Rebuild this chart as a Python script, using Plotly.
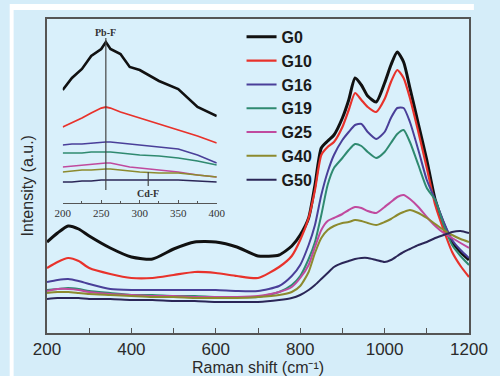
import plotly.graph_objects as go

# Raman shift grid (cm^-1) for the main spectra
shift = [200, 225, 250, 275, 300, 350, 400, 450, 500, 550, 600, 650, 700, 750, 780,
         800, 820, 835, 850, 865, 880, 900, 915, 930, 945, 960, 980, 1000, 1015,
         1030, 1045, 1060, 1080, 1100, 1120, 1140, 1160, 1180, 1200]

g0 = [91, 100, 107, 104, 97, 85, 76, 74, 84, 91, 91, 86, 77, 78, 87, 98, 115, 148, 185,
      192, 198, 215, 233, 255, 248, 237, 231, 250, 268, 281, 271, 245, 209, 173, 133,
      109, 91, 81, 73]
g10 = [65, 71, 75, 72, 65, 59, 55, 55, 58, 61, 60, 57, 55, 66, 77, 93, 115, 143, 178,
       186, 191, 206, 223, 240, 233, 226, 221, 234, 251, 263, 255, 235, 201, 165, 128,
       103, 81, 67, 56]
g16 = [51, 53, 54, 52, 49, 44, 43, 43, 43, 43, 43, 42, 42, 47, 57, 68, 88, 108, 138,
       161, 178, 193, 201, 208, 209, 201, 194, 201, 215, 225, 225, 211, 183, 153, 133,
       111, 93, 83, 75]
g19 = [43, 44, 45, 44, 42, 40, 38, 38, 37, 37, 36, 36, 36, 41, 48, 57, 74, 91, 118,
       148, 165, 175, 183, 189, 187, 181, 175, 181, 190, 199, 203, 191, 168, 145, 133,
       108, 88, 77, 68]
g25 = [42, 44, 44, 43, 41, 39, 38, 37, 37, 36, 36, 36, 37, 41, 46, 55, 68, 86, 103,
       112, 115, 119, 123, 126, 125, 122, 120, 126, 131, 136, 138, 134, 126, 116, 107,
       100, 95, 90, 85]
g40 = [40, 41, 41, 40, 39, 38, 37, 36, 36, 35, 35, 35, 36, 38, 41, 47, 61, 80, 95,
       103, 107, 110, 111, 113, 112, 110, 108, 111, 114, 118, 121, 123, 120, 115, 109,
       103, 98, 94, 91]
g50 = [34, 35, 35, 35, 34, 34, 33, 33, 32, 32, 31, 31, 31, 33, 35, 38, 43, 48, 54,
       60, 66, 70, 72, 74, 75, 75, 73, 71, 73, 77, 81, 84, 88, 91, 95, 98, 101, 102, 100]

# Low-frequency region (inset)
shift_low = [200, 212, 225, 237, 250, 256, 262, 275, 287, 300, 325, 350, 375, 400]
low_g0 = [113, 125, 134, 147, 154, 161, 154, 149, 136, 133, 122, 114, 96, 87]
low_g10 = [76, 80, 85, 90, 95, 96, 95, 91, 88, 85, 79, 73, 67, 60]
low_g16 = [58, 59, 59, 60, 61, 61, 61, 60, 59, 58, 56, 54, 48, 40]
low_g19 = [50, 50, 50, 51, 51, 51, 51, 50, 49, 48, 47, 45, 42, 38]
low_g25 = [36, 37, 38, 39, 40, 40, 40, 38, 36, 35, 33, 31, 28, 26]
low_g40 = [31, 32, 33, 33, 34, 34, 34, 33, 32, 31, 30, 30, 28, 26]
low_g50 = [21, 21, 22, 22, 23, 23, 23, 23, 23, 23, 23, 23, 22, 21]

names = ["G0", "G10", "G16", "G19", "G25", "G40", "G50"]
colors = ["#111111", "#e8322b", "#4a3f99", "#2f8a70", "#c04a9e", "#8c8a2e", "#2b2657"]
widths = [3.0, 2.2, 2.0, 2.0, 2.0, 2.0, 2.0]
main_series = [g0, g10, g16, g19, g25, g40, g50]
low_series = [low_g0, low_g10, low_g16, low_g19, low_g25, low_g40, low_g50]

pb_f = 256
cd_f = 311

SANS = "Arial, Liberation Sans, sans-serif"
SERIF = "Times New Roman, Liberation Serif, serif"

fig = go.Figure()
for name, col, w, ys in zip(names, colors, widths, main_series):
    fig.add_trace(go.Scatter(x=shift, y=ys, mode="lines", name=name,
                             legendgroup=name,
                             line=dict(color=col, width=w, shape="spline", smoothing=0.6)))
for name, col, w, ys in zip(names, colors, widths, low_series):
    fig.add_trace(go.Scatter(x=shift_low, y=ys, mode="lines", name=name,
                             showlegend=False, xaxis="x2", yaxis="y2",
                             line=dict(color=col, width=w - 0.4)))

fig.update_layout(
    width=500, height=376,
    margin=dict(l=47, r=23, t=19, b=43),
    paper_bgcolor="#d5edf9",
    plot_bgcolor="#d9f0fb",
    font=dict(family=SANS, color="#2a2a2a"),
    xaxis=dict(range=[200, 1200], dtick=200, ticks="inside", ticklen=5,
               tickcolor="#555", showline=True, linecolor="#555", linewidth=1.5,
               mirror=True, showgrid=False, zeroline=False,
               minor=dict(dtick=100, ticks="inside", ticklen=5, tickcolor="#555"),
               tickfont=dict(size=17, family=SANS, color="#2a2a2a")),
    yaxis=dict(range=[0, 314], showticklabels=False, ticks="", showline=True,
               linecolor="#555", linewidth=1.5, mirror=True, showgrid=False,
               zeroline=False),
    xaxis2=dict(domain=[0.0372, 0.4023], anchor="y2", range=[200, 400], dtick=50,
                ticks="inside", ticklen=3, tickcolor="#555", showline=True,
                linecolor="#555", linewidth=1, showgrid=False, zeroline=False,
                minor=dict(dtick=25, ticks="inside", ticklen=2, tickcolor="#555"),
                tickfont=dict(size=11, family=SERIF, color="#333")),
    yaxis2=dict(domain=[0.414, 1.0], anchor="x2", range=[0, 184], visible=False),
    legend=dict(x=0.461, y=0.997, xanchor="left", yanchor="top",
                bgcolor="rgba(0,0,0,0)", traceorder="grouped", tracegroupgap=0,
                font=dict(size=16, family=SANS, color="#1a1a1a", weight="bold")),
    showlegend=True,
)

# White strips of the panel border
fig.add_shape(type="rect", xref="paper", yref="paper", x0=-0.0814, x1=1.0116,
              y0=1.0287, y1=1.0478, fillcolor="white", line_width=0, layer="below")
fig.add_shape(type="rect", xref="paper", yref="paper", x0=-0.0884, x1=-0.0791,
              y0=-0.14, y1=1.0478, fillcolor="white", line_width=0, layer="below")

# Band markers in the inset
fig.add_shape(type="line", xref="x2", yref="y2", x0=pb_f, x1=pb_f, y0=13, y1=165,
              line=dict(color="#444", width=1.2))
fig.add_shape(type="line", xref="x2", yref="y2", x0=cd_f, x1=cd_f, y0=17, y1=31,
              line=dict(color="#444", width=1.2))
fig.add_annotation(xref="x2", yref="y2", x=pb_f, y=171, text="<b>Pb-F</b>",
                   showarrow=False, font=dict(size=10, family=SERIF, color="#333"))
fig.add_annotation(xref="x2", yref="y2", x=cd_f, y=10, text="<b>Cd-F</b>",
                   showarrow=False, font=dict(size=10, family=SERIF, color="#333"))

# Axis titles
fig.add_annotation(xref="paper", yref="paper", x=0.5, y=-0.11, yanchor="middle",
                   text="Raman shift (cm⁻¹)", showarrow=False,
                   font=dict(size=16, family=SANS, color="#2a2a2a"))
fig.add_annotation(xref="paper", yref="paper", x=-0.0465, y=0.468, textangle=-90,
                   xanchor="center", yanchor="middle",
                   text="Intensity (a.u.)", showarrow=False,
                   font=dict(size=16, family=SANS, color="#2a2a2a"))

fig.write_html("out.html")
